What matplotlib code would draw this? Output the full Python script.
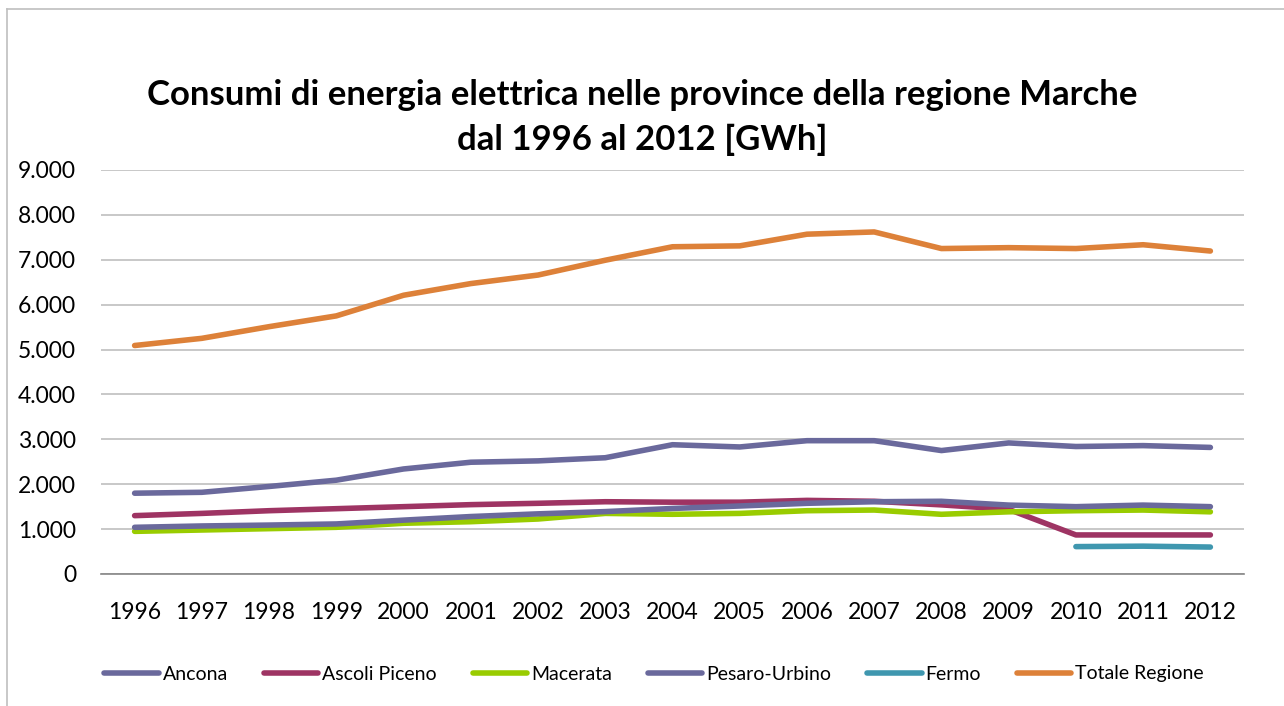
import matplotlib.pyplot as plt
import matplotlib.ticker as mticker
from matplotlib.lines import Line2D
import numpy as np

# Consumi di energia elettrica, province Marche [GWh]
years = [str(y) for y in range(1996, 2013)]

ancona = [1800, 1820, 1950, 2090, 2340, 2490, 2520, 2590, 2880,
          2830, 2970, 2970, 2750, 2920, 2840, 2860, 2820]
ascoli = [1300, 1350, 1410, 1455, 1500, 1545, 1575, 1610, 1600,
          1600, 1640, 1620, 1540, 1440, 870, 870, 870]
macerata = [950, 980, 1010, 1040, 1130, 1165, 1225, 1350, 1330,
            1350, 1410, 1425, 1330, 1385, 1410, 1425, 1385]
pesaro = [1040, 1070, 1090, 1115, 1200, 1280, 1340, 1390, 1460,
          1515, 1575, 1610, 1620, 1535, 1500, 1535, 1500]
fermo = [None] * 14 + [610, 620, 600]
totale = [5090, 5250, 5510, 5750, 6210, 6470, 6660, 6990, 7290,
          7310, 7570, 7620, 7250, 7270, 7250, 7335, 7195]

series = [
    ("Ancona", ancona, "#6A699C"),
    ("Ascoli Piceno", ascoli, "#9E3463"),
    ("Macerata", macerata, "#99CC00"),
    ("Pesaro-Urbino", pesaro, "#6A699C"),
    ("Fermo", fermo, "#3F97AF"),
    ("Totale Regione", totale, "#DD8139"),
]

title1 = "Consumi di energia elettrica nelle province della regione Marche"
title2 = "dal 1996 al 2012 [GWh]"

plt.rcParams['font.family'] = ['Lato', 'DejaVu Sans']

fig = plt.figure(figsize=(12.84, 7.06), dpi=100)
W, H = 1284, 706
ax = fig.add_axes([101 / W, 1 - 574 / H, (1244 - 101) / W, (574 - 170) / H])

x = np.arange(len(years))
for name, vals, clr in series:
    y = np.array([np.nan if v is None else v for v in vals], dtype=float)
    ax.plot(x, y, '-', color=clr, lw=4, label=name, solid_capstyle='round',
            solid_joinstyle='round')

ax.set_xlim(-0.5, len(years) - 0.5)
ax.set_ylim(0, 9000)
ax.set_xticks(x)
ax.set_xticklabels(years)
ax.yaxis.set_major_locator(mticker.MultipleLocator(1000))
ax.yaxis.set_major_formatter(mticker.FuncFormatter(
    lambda v, p: f"{int(v):,}".replace(",", ".")))
ax.tick_params(axis='both', length=0, labelsize=16.5, colors='black')
ax.tick_params(axis='y', pad=18)
ax.tick_params(axis='x', pad=20)
ax.grid(axis='y', color='#BFBFBF', lw=1.2)
ax.set_axisbelow(True)
for s in ['top', 'right', 'left']:
    ax.spines[s].set_visible(False)
ax.spines['bottom'].set_color('#868686')
ax.spines['bottom'].set_linewidth(1.2)

fig.text(0.5, 1 - 95 / H, title1, ha='center', va='center',
         fontsize=25, fontweight='bold')
fig.text(0.5, 1 - 140 / H, title2, ha='center', va='center',
         fontsize=25, fontweight='bold')

fig.legend(loc='center', bbox_to_anchor=(654 / W, 1 - 674 / H), ncol=6,
           frameon=False, fontsize=14, handlelength=2.8, handletextpad=0.2,
           columnspacing=1.85)

# chart frame (right and bottom edges fall outside the picture)
fx, fy = 7 / W, 1 - 9 / H
fig.add_artist(Line2D([fx, fx], [0, fy], color='#BFBFBF', lw=1.2))
fig.add_artist(Line2D([fx, 1], [fy, fy], color='#BFBFBF', lw=1.2))

fig.savefig("out.png", dpi=100)
